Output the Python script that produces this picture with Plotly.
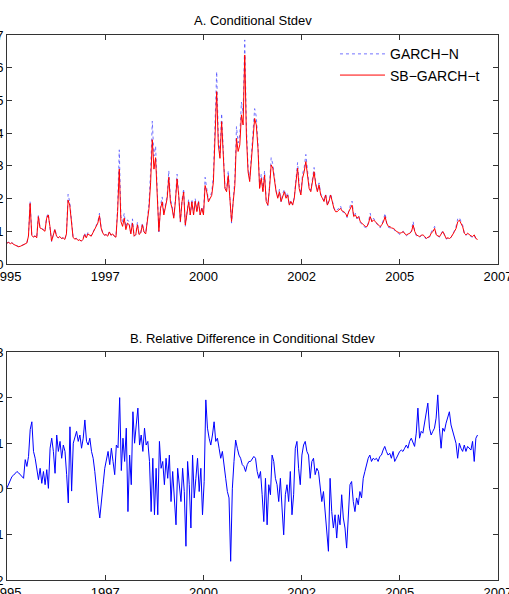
import numpy as np
import plotly.graph_objects as go

# ---------------- data ----------------
start_year = 1995.0
end_year = 2006.5

tick_years = ["1995", "1997", "2000", "2002", "2005", "2007"]
tick_pos = [1995.0, 1997.4, 1999.8, 2002.2, 2004.6, 2007.0]

# Panel A: SB-GARCH-t conditional stdev
sb_garch_t = [
    0.64,0.66,0.62,0.65,0.60,0.58,0.55,0.53,0.54,0.56,
    0.58,0.60,0.64,0.85,1.85,0.88,0.82,0.86,0.80,1.45,
    1.10,1.08,1.05,1.00,1.40,1.50,1.15,0.70,0.88,1.05,
    0.85,0.80,0.84,0.78,0.80,0.75,0.92,1.95,1.80,1.20,
    0.82,0.76,0.78,0.72,0.74,0.70,0.75,0.90,0.80,0.92,
    0.88,0.85,0.95,1.05,1.12,1.25,1.48,1.10,0.95,0.88,
    0.90,0.85,0.98,0.88,0.92,0.85,0.82,1.60,2.90,1.30,
    1.15,1.40,1.05,1.25,1.20,0.92,1.25,0.85,0.90,1.20,
    0.90,0.95,1.20,0.98,0.92,1.35,1.70,2.50,3.80,2.90,
    3.25,2.10,1.00,1.70,1.90,1.50,1.75,2.00,2.65,1.90,
    1.70,1.40,1.90,2.60,2.10,1.30,1.90,2.20,1.19,1.60,
    1.90,1.50,1.90,1.50,1.92,1.60,1.90,1.50,1.70,1.50,
    2.40,2.20,1.90,2.00,2.10,2.50,3.94,5.27,3.64,3.23,
    4.35,3.13,2.31,2.21,2.70,2.00,1.30,1.90,2.40,3.84,
    3.44,3.64,4.56,4.25,6.39,3.94,2.82,2.52,3.13,3.84,
    4.45,4.25,3.54,2.31,2.62,2.21,2.72,1.91,1.80,2.31,
    3.03,2.93,2.52,2.21,2.01,2.21,1.91,2.10,2.21,2.01,
    2.11,1.80,1.91,1.80,2.01,2.50,2.93,2.30,2.11,2.62,
    2.82,3.13,2.72,2.31,2.21,2.52,2.82,2.42,2.21,2.42,
    2.11,2.01,1.91,2.11,1.80,1.91,2.11,1.91,1.70,1.60,
    1.60,1.65,1.70,1.62,1.60,1.55,1.45,1.60,1.70,1.80,
    1.45,1.50,1.40,1.45,1.29,1.25,1.19,1.15,1.14,1.25,
    1.45,1.29,1.35,1.30,1.24,1.20,1.14,1.20,1.29,1.45,
    1.24,1.15,1.14,1.10,1.09,1.05,0.99,0.97,0.94,0.96,
    0.99,0.92,0.89,0.92,0.94,0.99,1.19,0.99,0.89,0.86,
    0.84,0.88,0.89,0.84,0.78,0.82,0.84,0.95,0.99,1.09,
    0.89,0.86,0.84,0.92,0.99,0.89,0.78,0.80,0.78,0.82,
    0.89,0.99,1.09,1.29,1.34,1.24,1.14,0.94,0.89,0.94,
    0.89,0.86,0.84,0.89,0.78,0.75,
]

# Panel A: GARCH-N conditional stdev
garch_n = [
    0.64,0.67,0.62,0.66,0.60,0.58,0.55,0.53,0.54,0.56,
    0.58,0.61,0.64,0.86,1.92,0.88,0.83,0.86,0.80,1.50,
    1.12,1.08,1.06,1.01,1.44,1.55,1.17,0.69,0.88,1.08,
    0.86,0.80,0.85,0.78,0.80,0.75,0.93,2.13,1.90,1.24,
    0.84,0.77,0.79,0.72,0.74,0.70,0.76,0.95,0.82,0.96,
    0.89,0.86,0.96,1.07,1.15,1.28,1.55,1.12,0.95,0.88,
    0.90,0.85,1.00,0.88,0.93,0.85,0.82,1.75,3.49,1.45,
    1.30,1.55,1.12,1.35,1.28,0.92,1.38,0.85,0.90,1.28,
    0.90,0.95,1.25,0.98,0.92,1.45,1.85,2.85,4.37,3.30,
    3.60,2.25,0.98,1.80,2.05,1.55,1.85,2.10,2.85,1.98,
    1.78,1.42,2.00,2.75,2.15,1.28,1.95,2.30,1.15,1.62,
    1.98,1.50,1.98,1.52,2.00,1.62,1.95,1.50,1.75,1.52,
    2.65,2.30,1.95,2.05,2.20,2.70,4.40,5.88,3.90,3.40,
    4.60,3.25,2.35,2.28,2.85,2.05,1.25,1.95,2.60,4.20,
    3.70,3.95,4.95,4.60,6.85,4.20,2.95,2.60,3.35,4.15,
    4.75,4.50,3.70,2.35,2.75,2.25,2.85,1.95,1.78,2.40,
    3.25,3.05,2.60,2.25,2.05,2.28,1.90,2.15,2.28,2.05,
    2.18,1.80,1.95,1.82,2.05,2.65,3.10,2.40,2.15,2.75,
    2.95,3.35,2.85,2.38,2.25,2.60,2.95,2.50,2.25,2.48,
    2.15,2.05,1.92,2.15,1.80,1.95,2.15,1.95,1.72,1.62,
    1.65,1.70,1.78,1.60,1.58,1.52,1.42,1.65,1.80,1.92,
    1.45,1.55,1.38,1.48,1.26,1.22,1.15,1.12,1.10,1.30,
    1.55,1.30,1.40,1.32,1.22,1.18,1.10,1.22,1.35,1.55,
    1.25,1.12,1.10,1.08,1.07,1.02,0.96,0.94,0.90,0.95,
    1.00,0.90,0.86,0.92,0.95,1.02,1.30,0.98,0.86,0.83,
    0.82,0.87,0.88,0.82,0.75,0.80,0.83,0.98,1.05,1.15,
    0.88,0.84,0.82,0.93,1.02,0.88,0.76,0.79,0.76,0.82,
    0.90,1.02,1.15,1.38,1.42,1.30,1.18,0.93,0.87,0.93,
    0.88,0.84,0.82,0.88,0.76,0.73,
]

# Panel B: relative difference in conditional stdev
rel_diff = [
    0.002,0.010,0.020,0.027,0.030,0.034,0.038,0.035,0.031,0.027,
    0.023,0.064,0.049,0.071,0.130,0.147,0.082,0.067,0.045,0.020,
    0.045,0.012,0.038,0.009,0.042,0.001,0.089,0.111,0.082,0.034,
    0.118,0.082,0.104,0.067,0.096,0.082,0.031,-0.031,0.136,-0.005,
    0.100,0.111,0.126,0.104,0.118,0.089,0.111,0.151,0.104,0.096,
    0.111,0.082,0.067,0.038,-0.006,-0.035,-0.064,-0.020,0.009,0.045,
    0.067,0.082,0.053,0.089,0.060,0.031,0.096,0.090,0.200,0.040,
    0.111,0.060,0.133,-0.050,0.074,0.009,0.169,0.100,0.140,0.177,
    0.096,0.118,0.082,0.133,0.096,0.104,0.060,-0.050,0.067,-0.057,
    0.045,-0.057,0.104,0.045,0.060,0.009,0.067,0.023,0.074,-0.028,
    0.038,-0.035,-0.079,0.045,0.009,-0.028,0.045,-0.006,-0.126,0.060,
    0.009,-0.086,0.074,-0.020,0.023,0.067,-0.006,0.045,-0.057,0.016,
    0.195,0.133,0.111,0.096,0.118,0.147,0.104,0.111,0.089,0.067,
    0.082,0.045,0.023,-0.006,-0.020,-0.159,0.000,0.060,0.107,0.089,
    0.074,0.067,0.053,0.049,0.038,0.053,0.060,0.060,0.067,0.071,
    0.067,0.038,0.023,0.038,-0.013,-0.072,0.023,-0.079,0.009,-0.013,
    0.074,0.060,0.023,0.009,-0.028,0.023,-0.042,-0.101,-0.013,0.009,
    -0.028,0.038,-0.057,-0.013,0.089,0.104,0.045,0.009,0.074,0.096,
    0.104,0.082,0.074,0.023,0.060,0.067,0.031,0.045,0.038,0.001,
    -0.028,-0.006,-0.050,-0.079,-0.137,0.023,-0.050,-0.086,-0.057,-0.108,
    -0.057,-0.079,-0.013,-0.064,-0.086,-0.130,-0.050,0.009,0.016,-0.028,
    -0.050,-0.020,-0.035,-0.006,-0.020,0.023,0.038,0.053,0.067,0.074,
    0.060,0.067,0.064,0.067,0.060,0.071,0.074,0.085,0.093,0.082,
    0.074,0.078,0.067,0.082,0.060,0.067,0.074,0.082,0.085,0.082,
    0.089,0.096,0.089,0.104,0.111,0.100,0.093,0.122,0.177,0.111,
    0.126,0.122,0.144,0.162,0.188,0.133,0.118,0.126,0.133,0.155,
    0.206,0.133,0.089,0.133,0.126,0.144,0.155,0.169,0.140,0.126,
    0.111,0.100,0.067,0.100,0.089,0.082,0.096,0.082,0.093,0.089,
    0.085,0.104,0.060,0.111,0.118,
]

t_a = np.linspace(start_year, end_year, len(sb_garch_t))
t_b = np.linspace(start_year, end_year, len(rel_diff))

FONT = "Liberation Sans, Arial, sans-serif"

fig = go.Figure()
fig.add_trace(go.Scatter(x=t_a, y=garch_n, mode="lines", name="GARCH\u2212N",
                         line=dict(color="rgba(70,70,255,0.75)", width=1, dash="dot"),
                         xaxis="x", yaxis="y"))
fig.add_trace(go.Scatter(x=t_a, y=sb_garch_t, mode="lines", name="SB\u2212GARCH\u2212t",
                         line=dict(color="rgb(255,0,0)", width=1),
                         xaxis="x", yaxis="y"))
fig.add_trace(go.Scatter(x=t_b, y=rel_diff, mode="lines", showlegend=False,
                         line=dict(color="rgb(0,0,255)", width=1),
                         xaxis="x2", yaxis="y2"))

axis_common = dict(showline=True, linecolor="#333333", linewidth=1, mirror="ticks",
                   ticks="inside", ticklen=5, tickcolor="#333333", showgrid=False,
                   zeroline=False, automargin=False, ticklabeloverflow="allow",
                   tickfont=dict(family=FONT, size=13, color="black"))

fig.update_layout(
    width=509, height=594,
    margin=dict(l=7, r=11, t=35, b=14, autoexpand=False),
    paper_bgcolor="white", plot_bgcolor="white",
    font=dict(family=FONT, size=13, color="black"),
    xaxis=dict(domain=[0, 1], range=[1995, 2007], tickvals=tick_pos, ticktext=tick_years,
               anchor="y", **axis_common),
    yaxis=dict(domain=[0.5798, 1.0], range=[0, 7], tickvals=[0, 1, 2, 3, 4, 5, 6, 7],
               anchor="x", **axis_common),
    xaxis2=dict(domain=[0, 1], range=[1995, 2007], tickvals=tick_pos, ticktext=tick_years,
                anchor="y2", **axis_common),
    yaxis2=dict(domain=[0.0, 0.4183], range=[-0.2, 0.3],
                tickvals=[-0.2, -0.1, 0, 0.1, 0.2, 0.3],
                ticktext=["\u22120.2", "\u22120.1", "0", "0.1", "0.2", "0.3"],
                anchor="x2", **axis_common),
    legend=dict(x=0.668, y=0.994, xanchor="left", yanchor="top",
                bgcolor="rgba(0,0,0,0)", borderwidth=0,
                font=dict(family=FONT, size=14, color="black"), itemwidth=45),
    annotations=[
        dict(text="A. Conditional Stdev", x=0.5, y=1.0275, xref="paper", yref="paper",
             showarrow=False, xanchor="center", yanchor="middle",
             font=dict(family=FONT, size=13, color="black")),
        dict(text="B. Relative Difference in Conditional Stdev", x=0.5, y=0.444,
             xref="paper", yref="paper", showarrow=False, xanchor="center",
             yanchor="middle", font=dict(family=FONT, size=13, color="black")),
    ],
)

fig.write_html("out.html")
